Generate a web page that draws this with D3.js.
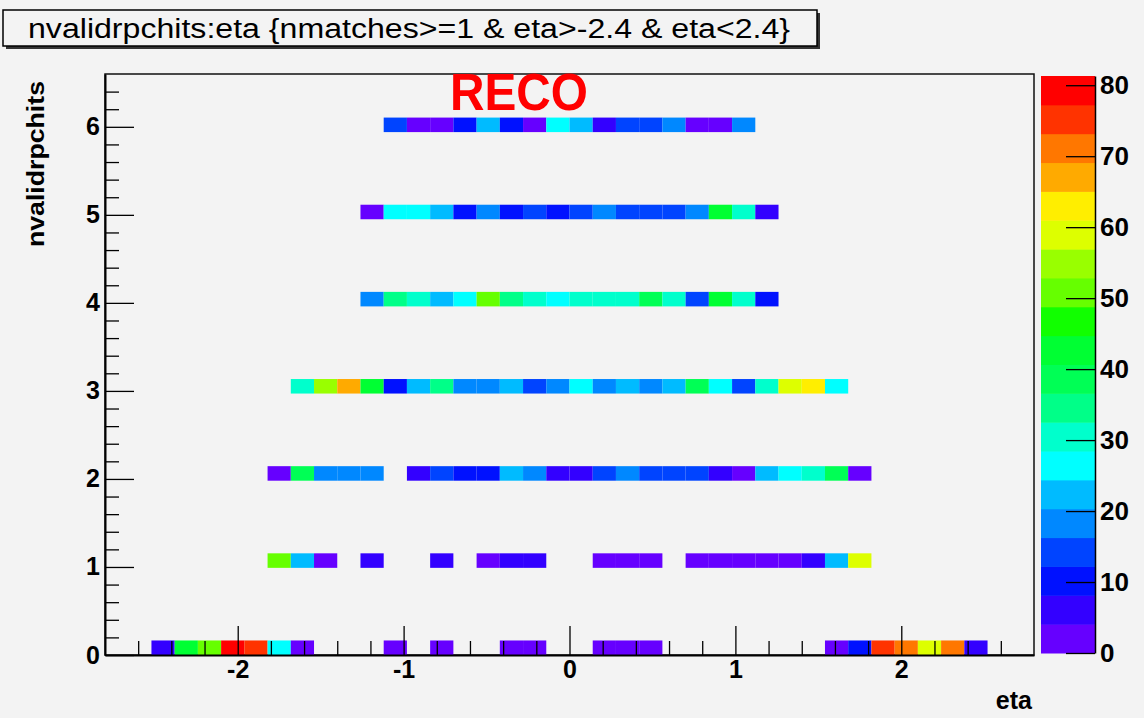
<!DOCTYPE html>
<html>
<head>
<meta charset="utf-8">
<script src="https://cdn.jsdelivr.net/npm/d3@7"></script>
<style>
  html, body { margin: 0; padding: 0; background: #f3f3f3; }
  svg { display: block; font-family: "Liberation Sans", Arial, sans-serif; }
  .tick text { font-weight: bold; fill: #000; }
</style>
</head>
<body>
<div id="chart"></div>
<script>
var width = 1144, height = 718;

// histogram binning (40 x 40 bins)
var etaMin = -2.8, etaMax = 2.8, nEtaBins = 40;
var hitsMin = 0, hitsMax = 6.6, nHitsBins = 40;
var zMax = 81.3;

// rows of the 2D histogram: nvalidrpchits value and counts per eta bin
var hitValues = [0, 1, 2, 3, 4, 5, 6];
var row0 = [0,0,6,43,50,79,75,26,2,0,0,0,2,0,2,0,0,3,2,0,0,2,3,2,0,0,0,0,0,0,0,2,11,75,71,59,71,6,0,0];
var row1 = [0,0,0,0,0,0,0,50,22,2,0,6,0,0,6,0,2,6,6,0,0,2,2,2,0,2,2,2,2,2,6,22,59,0,0,0,0,0,0,0];
var row2 = [0,0,0,0,0,0,0,2,38,18,18,18,0,6,14,10,10,22,18,6,6,14,18,14,14,14,6,2,22,26,30,38,2,0,0,0,0,0,0,0];
var row3 = [0,0,0,0,0,0,0,0,30,55,67,43,10,22,34,18,18,22,14,18,26,18,22,18,22,38,26,14,30,59,63,26,0,0,0,0,0,0,0,0];
var row4 = [0,0,0,0,0,0,0,0,0,0,0,18,34,30,22,26,50,34,30,26,30,30,30,38,30,14,43,30,10,0,0,0,0,0,0,0,0,0,0,0];
var row5 = [0,0,0,0,0,0,0,0,0,0,0,2,26,26,22,10,18,10,14,10,14,18,14,14,14,18,43,30,6,0,0,0,0,0,0,0,0,0,0,0];
var row6 = [0,0,0,0,0,0,0,0,0,0,0,0,14,2,2,10,22,10,2,26,22,6,14,14,18,2,2,18,0,0,0,0,0,0,0,0,0,0,0,0];
var rows = [row0, row1, row2, row3, row4, row5, row6];

// ROOT rainbow palette, 20 contours
var palette = ['#6600ff','#3300ff','#0011ff','#0044ff','#0088ff','#00bbff','#00ffff','#00ffcc',
  '#00ff88','#00ff55','#00ff33','#11ff00','#66ff00','#99ff00','#ddff00','#ffee00',
  '#ffaa00','#ff7700','#ff3300','#ff0000'];

var xTicks = [-2, -1, 0, 1, 2];
var yTicks = [0, 1, 2, 3, 4, 5, 6];
var zTicks = [0, 10, 20, 30, 40, 50, 60, 70, 80];

var frame = {left: 105, right: 1034, top: 74, bottom: 655};

var svg = d3.select("#chart")
  .append("svg")
  .attr("width", width)
  .attr("height", height);

svg.append("rect")
  .attr("width", width)
  .attr("height", height)
  .attr("fill", "#f3f3f3");

var xScale = d3.scaleLinear()
  .domain([etaMin, etaMax])
  .range([frame.left, frame.right]);

var yScale = d3.scaleLinear()
  .domain([hitsMin, hitsMax])
  .range([frame.bottom, frame.top]);

var color = d3.scaleQuantize()
  .domain([0, zMax])
  .range(palette);

var etaW = (etaMax - etaMin) / nEtaBins;
var hitsW = (hitsMax - hitsMin) / nHitsBins;

// flatten cells
var cells = [];
rows.forEach(function(r, ri) {
  var yb = Math.floor((hitValues[ri] - hitsMin) / hitsW + 1e-9);
  r.forEach(function(v, xi) {
    if (v > 0) cells.push({xi: xi, yb: yb, v: v});
  });
});

// frame
svg.append("rect")
  .attr("x", frame.left)
  .attr("y", frame.top)
  .attr("width", frame.right - frame.left)
  .attr("height", frame.bottom - frame.top)
  .attr("fill", "#f3f3f3")
  .attr("stroke", "#111")
  .attr("stroke-width", 1.5);

// cells
svg.append("g")
  .attr("class", "cells")
  .selectAll("rect")
  .data(cells)
  .enter()
  .append("rect")
  .attr("x", d => xScale(etaMin + d.xi * etaW))
  .attr("width", d => xScale(etaMin + (d.xi + 1) * etaW) - xScale(etaMin + d.xi * etaW))
  .attr("y", d => yScale(hitsMin + (d.yb + 1) * hitsW))
  .attr("height", d => yScale(hitsMin + d.yb * hitsW) - yScale(hitsMin + (d.yb + 1) * hitsW))
  .attr("fill", d => color(d.v));

// minor ticks
var xMinor = d3.range(-26, 27, 2).map(d => d / 10).filter(d => Math.abs(d % 1) > 0.01);
var yMinor = d3.range(0, 66, 2).map(d => d / 10).filter(d => Math.abs(d % 1) > 0.01);

svg.append("g")
  .attr("transform", `translate(0,${frame.bottom})`)
  .call(d3.axisBottom(xScale).tickValues(xMinor).tickSize(-14).tickFormat(""))
  .call(g => g.select(".domain").remove())
  .selectAll("line").attr("stroke", "#000").attr("stroke-width", 1.3);

svg.append("g")
  .attr("transform", `translate(${frame.left},0)`)
  .call(d3.axisLeft(yScale).tickValues(yMinor).tickSize(-14).tickFormat(""))
  .call(g => g.select(".domain").remove())
  .selectAll("line").attr("stroke", "#000").attr("stroke-width", 1.3);

// X axis
var xAxisG = svg.append("g")
  .attr("transform", `translate(0,${frame.bottom})`)
  .call(d3.axisBottom(xScale).tickValues(xTicks).tickSizeInner(-29).tickSizeOuter(0).tickPadding(5)
    .tickFormat(d => d.toString()));
xAxisG.select(".domain").attr("stroke", "#000").attr("stroke-width", 2);
xAxisG.selectAll("line").attr("stroke", "#000").attr("stroke-width", 1.3);
xAxisG.selectAll("text").style("font-size", "25px").attr("font-family", "Liberation Sans");

// Y axis
var yAxisG = svg.append("g")
  .attr("transform", `translate(${frame.left},0)`)
  .call(d3.axisLeft(yScale).tickValues(yTicks).tickSizeInner(-29).tickSizeOuter(0).tickPadding(5)
    .tickFormat(d => d.toString()));
yAxisG.select(".domain").attr("stroke", "#000").attr("stroke-width", 2);
yAxisG.selectAll("line").attr("stroke", "#000").attr("stroke-width", 1.3);
yAxisG.selectAll("text").style("font-size", "25px").attr("font-family", "Liberation Sans");

// axis titles
svg.append("text")
  .attr("x", frame.right - 2)
  .attr("y", 709)
  .attr("text-anchor", "end")
  .style("font-size", "25px")
  .style("font-weight", "bold")
  .text("eta");

svg.append("text")
  .attr("transform", `translate(44,81) rotate(-90)`)
  .attr("text-anchor", "end")
  .attr("textLength", 166)
  .attr("lengthAdjust", "spacingAndGlyphs")
  .style("font-size", "24px")
  .style("font-weight", "bold")
  .text("nvalidrpchits");

// colour palette bar
var bar = {left: 1041, right: 1095, top: 76, bottom: 653};
var zScale = d3.scaleLinear()
  .domain([0, zMax])
  .range([bar.bottom, bar.top]);

svg.append("g")
  .selectAll("rect")
  .data(palette)
  .enter()
  .append("rect")
  .attr("x", bar.left)
  .attr("width", bar.right - bar.left)
  .attr("y", (d, i) => zScale((i + 1) * zMax / palette.length))
  .attr("height", (d, i) => zScale(i * zMax / palette.length) - zScale((i + 1) * zMax / palette.length) + 0.5)
  .attr("fill", d => d);

var zAxisG = svg.append("g")
  .attr("transform", `translate(${bar.right},0)`)
  .call(d3.axisRight(zScale).tickValues(zTicks).tickSizeInner(-29).tickSizeOuter(0).tickPadding(5));
zAxisG.select(".domain").attr("stroke", "#000").attr("stroke-width", 1.5);
zAxisG.selectAll("line").attr("stroke", "#000").attr("stroke-width", 1.3);
zAxisG.selectAll("text").style("font-size", "26px").attr("font-family", "Liberation Sans");

// title box
svg.append("rect")
  .attr("x", 6)
  .attr("y", 13)
  .attr("width", 814)
  .attr("height", 36)
  .attr("fill", "#333");
svg.append("rect")
  .attr("x", 3)
  .attr("y", 10)
  .attr("width", 814)
  .attr("height", 36)
  .attr("fill", "#f3f3f3")
  .attr("stroke", "#000")
  .attr("stroke-width", 1.5);
svg.append("text")
  .attr("x", 28)
  .attr("y", 38)
  .attr("textLength", 762)
  .attr("lengthAdjust", "spacingAndGlyphs")
  .style("font-size", "27px")
  .text("nvalidrpchits:eta {nmatches>=1 & eta>-2.4 & eta<2.4}");

// RECO label
svg.append("text")
  .attr("x", 519)
  .attr("y", 110)
  .attr("text-anchor", "middle")
  .attr("textLength", 138)
  .attr("lengthAdjust", "spacingAndGlyphs")
  .style("font-size", "51px")
  .style("font-weight", "bold")
  .style("fill", "#ff0000")
  .text("RECO");
</script>
</body>
</html>
